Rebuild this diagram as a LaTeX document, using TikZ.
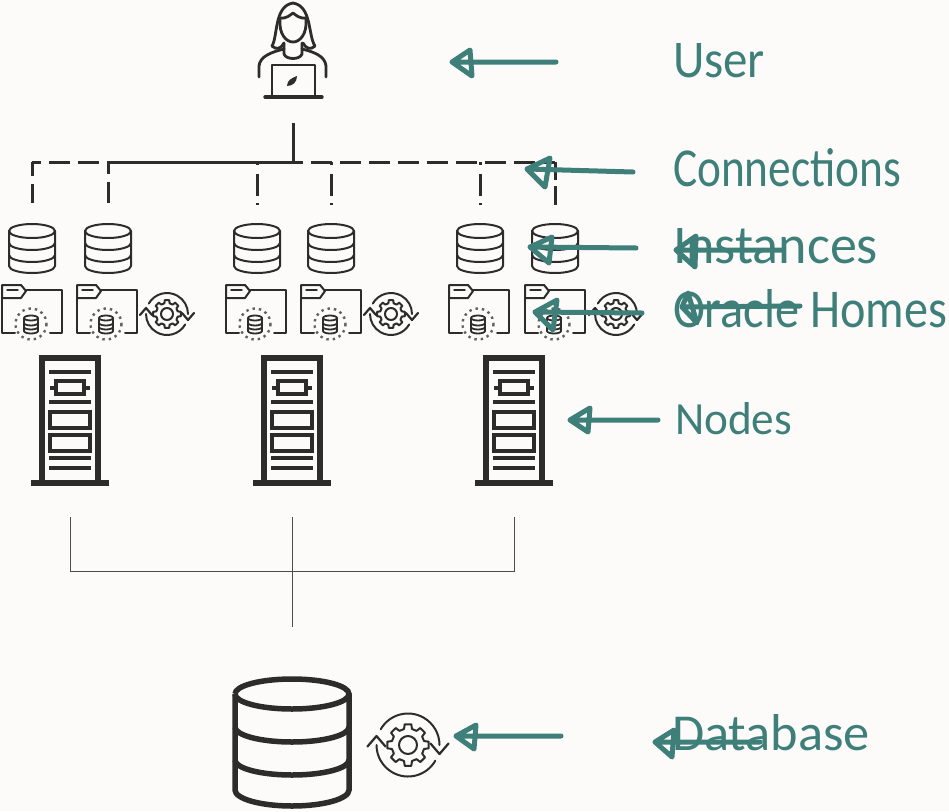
\documentclass[tikz,border=0pt]{standalone}
\usepackage{fontspec}
\setmainfont{Carlito}
\usepackage{graphicx}
\definecolor{paper}{HTML}{FCFBF9}
\definecolor{ink}{HTML}{2E2C2B}
\definecolor{teal}{HTML}{3E7F7A}
\tikzset{
  icon/.style={draw=ink,line width=2pt,line cap=round,line join=round},
  heavy/.style={draw=ink,line width=5.5pt,line join=miter},
  harrow/.style={draw=teal,line width=5pt,line cap=round,line join=round},
  lab/.style={text=teal,anchor=base west,inner sep=0pt,outer sep=0pt},
  bus/.style={draw=ink!85,line width=1pt},
  solidlink/.style={draw=ink,line width=3pt},
  dashleft/.style={draw=ink,line width=3pt,dash pattern=on 21pt off 8pt,dash phase=12pt},
  dashright/.style={draw=ink,line width=3pt,dash pattern=on 21pt off 8pt,dash phase=11pt},
  dropa/.style={draw=ink,line width=3pt,dash pattern=on 14pt off 8pt on 19pt off 9pt},
  dropb/.style={draw=ink,line width=3pt,dash pattern=on 12pt off 8pt on 21pt off 9pt},
  dropc/.style={draw=ink,line width=3pt,dash pattern=on 3pt off 9pt on 22pt off 7pt on 2pt off 9pt},
  dropf/.style={draw=ink,line width=3pt,dash pattern=on 18pt off 6pt on 19pt off 9pt},
  pics/smalldb/.style={code={
    \draw[icon] (-23,-17) arc[start angle=180,end angle=0,x radius=23,y radius=7]
       arc[start angle=0,end angle=-180,x radius=23,y radius=7];
    \draw[icon] (-23,-17) -- (-23,18) arc[start angle=180,end angle=0,x radius=23,y radius=7] -- (23,-17);
    \draw[icon] (-23,-5) arc[start angle=180,end angle=0,x radius=23,y radius=7];
    \draw[icon] (-23,7) arc[start angle=180,end angle=0,x radius=23,y radius=7];
  }},
  pics/folderdb/.style={code={
    % origin: top-left of the tab
    \draw[icon] (0,5) -- (0,48) -- (13,48);
    \draw[icon] (48,48) -- (60,48) -- (60,5) -- (24,5);
    \draw[icon] (0,0) -- (19,0) -- (24,6) -- (19,13) -- (0,13) -- cycle;
    \draw[icon,line width=1.4pt] (5,5) -- (16,5);
    \draw[ink!75,line width=2.4pt,dash pattern=on 2.4pt off 4pt] (29,39) circle[radius=15.5];
    \draw[icon,line width=1.8pt] (22,33) -- (22,46) arc[start angle=180,end angle=0,x radius=7,y radius=2.5] -- (36,33)
       arc[start angle=0,end angle=180,x radius=7,y radius=2.5] arc[start angle=180,end angle=360,x radius=7,y radius=2.5];
    \draw[icon,line width=1.8pt] (22,38) arc[start angle=180,end angle=0,x radius=7,y radius=2.5];
    \draw[icon,line width=1.8pt] (22,42) arc[start angle=180,end angle=0,x radius=7,y radius=2.5];
  }},
  pics/gearcycle/.style={code={
    \draw[icon,line width=2pt] (-14:11) \foreach \a in {0,45,...,315}{ -- (\a-14:11) -- (\a-9:14) -- (\a+9:14) -- (\a+14:11) } -- cycle;
    \draw[icon,line width=2pt] (0,0) circle[radius=6];
    \draw[icon,line width=2pt] (-150:21) arc[start angle=-150,end angle=0,radius=21];
    \draw[icon,line width=2pt] (30:21) arc[start angle=30,end angle=180,radius=21];
    \draw[icon,line width=2.2pt] (15,-1) -- (21,6) -- (27,-1);
    \draw[icon,line width=2.2pt] (-27,1) -- (-21,-6) -- (-15,1);
  }},
  pics/server/.style={code={
    % origin: top centre of the cabinet
    \draw[heavy] (-28,126) -- (-28,0) -- (28,0) -- (28,126);
    \draw[heavy] (-39,125) -- (39,125);
    \draw[ink,line width=4pt] (-21,14) -- (21,14) (-21,44) -- (21,44) (-21,100) -- (21,100) (-21,110) -- (21,110);
    \draw[ink,line width=4pt] (-14,23) rectangle (14,36) (-20,29.5) -- (-14,29.5) (14,29.5) -- (20,29.5);
    \draw[ink,line width=4pt] (-20,54) rectangle (20,70) (-20,77) rectangle (20,93);
  }},
}
\begin{document}
\begin{tikzpicture}[x=1pt,y=-1pt]
\path[fill=paper,use as bounding box] (0,0) rectangle (949,811);

% user
\begin{scope}
  \draw[icon,line width=2.8pt] (272,46) .. controls (278,36) and (274,6) .. (293,3) .. controls (312,6) and (308,36) .. (315,46) .. controls (311,50) and (306,49) .. (303,43);
  \draw[icon,line width=2.8pt] (272,46) .. controls (276,50) and (281,49) .. (284,43);
  \draw[icon,line width=2.8pt] (279,18) .. controls (287,19) and (290,15) .. (293,13) .. controls (296,15) and (299,19) .. (307,18);
  \draw[icon,line width=2.8pt] (280,20) .. controls (279,34) and (286,42) .. (293,42) .. controls (300,42) and (307,34) .. (306,20);
  \draw[icon,line width=2.8pt] (284,43) -- (284,54) .. controls (286,60) and (300,60) .. (302,54) -- (302,43);
  \draw[icon,line width=2.8pt] (259,77) -- (259,66) .. controls (260,56) and (272,52) .. (284,49);
  \draw[icon,line width=2.8pt] (326,77) -- (326,66) .. controls (325,56) and (314,52) .. (302,49);
  \draw[icon,line width=2.8pt] (272,96) -- (272,65) -- (315,65) -- (315,96);
  \draw[icon,line width=3.4pt] (265,97) -- (322,97);
  \fill[ink] (287,86) .. controls (287,80) and (292,78) .. (297,76) .. controls (297,82) and (293,86) .. (287,86) -- cycle;
\end{scope}

% icon rows
\foreach \x/\n in {32/a,108/b,257/c,331/d,480/e,555/f}{
  \pic at (\x,248) {smalldb};
  \coordinate (drop\n) at (\x,205);
  \coordinate (tap\n) at (\x,162);
}
\foreach \x in {2,77,226,301,449,525}{ \pic at (\x,285) {folderdb}; }
\foreach \x in {167,391,616}{ \pic at (\x,314) {gearcycle}; }
\foreach \x/\n in {70/l,292/m,514/r}{
  \pic at (\x,358) {server};
  \coordinate (srv\n) at (\x,517);
  \coordinate (bus\n) at (\x,571);
}

% connections
\coordinate (ubase) at (293,123);
\coordinate (ujoin) at (293,162);
\draw[solidlink] (ubase) -- (ujoin);
\draw[solidlink] (tapb) -- (ujoin);
\draw[dashleft] (tapa) -- (tapb);
\draw[dashright] (ujoin) -- (tapf);
\draw[dropa] (tapa) -- (dropa);
\draw[dropb] (tapb) -- (dropb);
\draw[dropc] (tapc) -- (dropc);
\draw[dropc] (tapd) -- (dropd);
\draw[dropc] (tape) -- (drope);
\draw[dropf] (tapf) -- (dropf);

% shared storage bus
\coordinate (dbtop) at (292,627);
\draw[bus] (srvl) -- (busl) -- (busr) -- (srvr);
\draw[bus] (srvm) -- (dbtop);

% big database
\draw[ink,line width=5.5pt] (235,694) arc[start angle=180,end angle=0,x radius=57,y radius=15] arc[start angle=0,end angle=-180,x radius=57,y radius=15];
\draw[ink,line width=5.5pt] (235,694) -- (235,790) arc[start angle=180,end angle=0,x radius=57,y radius=16] -- (349,694);
\draw[ink,line width=5.5pt] (235,727) arc[start angle=180,end angle=0,x radius=57,y radius=15];
\draw[ink,line width=5.5pt] (235,760) arc[start angle=180,end angle=0,x radius=57,y radius=15];
\pic[scale=1.5] at (408,745) {gearcycle};

% labels
\node[lab] (tuser) at (673,77) {\resizebox{92pt}{34pt}{User}};
\node[lab] (tconn) at (673,186) {\resizebox{228pt}{38pt}{Connections}};
\node[lab] (tinst) at (673,263) {\resizebox{205pt}{35pt}{Instances}};
\node[lab] (thome) at (673,327) {\resizebox{274pt}{38pt}{Oracle Homes}};
\node[lab] (tnode) at (675,434) {\resizebox{117pt}{32pt}{Nodes}};
\node[lab] (tdata) at (672,750) {\resizebox{198pt}{36pt}{Database}};

% annotation arrows
\foreach \sx/\sy/\tx/\ty/\ax/\ay/\bx/\by in {
  556/62/452/62/470/50/472/76,
  633/172/527/169/550/158/545/187,
  636/248/530/247/552/237/549/263,
  642/313/535/312/557/300/553/330,
  658/420/570/420/590/408/588/432,
  561/736/456/736/476/725/474/749,
  783/250/676/250/696/236/695/267,
  800/306/682/307/688/293/697/323,
  760/742/655/742/674/730/672/757}{
  \draw[harrow] (\sx,\sy) -- (\tx,\ty) -- (\ax,\ay) -- (\bx,\by) -- (\tx,\ty);
}
\end{tikzpicture}
\end{document}
